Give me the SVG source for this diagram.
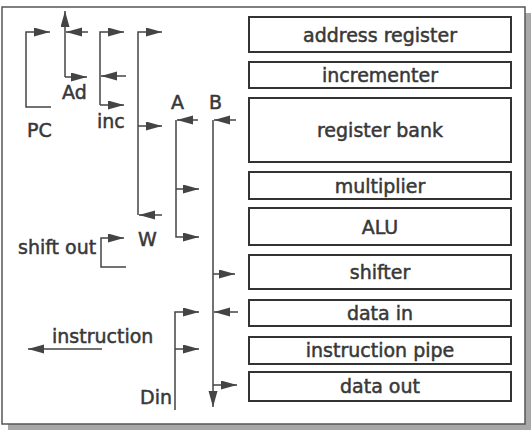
<svg xmlns="http://www.w3.org/2000/svg" width="532" height="439" viewBox="0 0 532 439">
<style>
  text { font-family: "DejaVu Sans", "Liberation Sans", sans-serif; font-size: 19px; fill: #383838; stroke: #383838; stroke-width: 0.5; }
  .box rect { fill: #ffffff; stroke: #333333; stroke-width: 2; }
  .box text { text-anchor: middle; }
  .wire { fill: none; stroke: #444444; stroke-width: 1.5; }
  .arr { marker-end: url(#ah); }
</style>
<defs>
  <marker id="ah" markerUnits="userSpaceOnUse" markerWidth="17" markerHeight="10" refX="16" refY="4.5" orient="auto" viewBox="0 0 17 10">
    <path d="M0,0 L16,4.5 L0,9 Z" fill="#444444"/>
  </marker>
</defs>
<rect x="0" y="0" width="532" height="439" fill="#ffffff"/>
<rect x="8" y="13" width="523" height="417" fill="#a8a8a8"/>
<rect x="2" y="7" width="523" height="417" fill="#ffffff" stroke="#555555" stroke-width="1.5"/>

<g id="address-register" class="box"><rect x="249" y="17" width="262" height="35"/><text x="380" y="41.5">address register</text></g>
<g id="incrementer" class="box"><rect x="249" y="62" width="262" height="26"/><text x="380" y="82">incrementer</text></g>
<g id="register-bank" class="box"><rect x="249" y="98" width="262" height="64"/><text x="380" y="137">register bank</text></g>
<g id="multiplier" class="box"><rect x="249" y="172" width="262" height="27"/><text x="380" y="192.5">multiplier</text></g>
<g id="alu" class="box"><rect x="249" y="208" width="262" height="37"/><text x="380" y="233.5">ALU</text></g>
<g id="shifter" class="box"><rect x="249" y="255" width="262" height="34"/><text x="380" y="279">shifter</text></g>
<g id="data-in" class="box"><rect x="249" y="300" width="262" height="26"/><text x="380" y="320">data in</text></g>
<g id="instruction-pipe" class="box"><rect x="249" y="337" width="262" height="27"/><text x="380" y="357">instruction pipe</text></g>
<g id="data-out" class="box"><rect x="249" y="372" width="262" height="29"/><text x="380" y="393">data out</text></g>

<g id="connectors" class="wire">
  <!-- PC -->
  <path d="M51,107 H26 V32 H50" class="arr"/>
  <!-- Ad -->
  <path d="M65,77 V11" class="arr"/>
  <path d="M65,77 H87" class="arr"/>
  <path d="M88,32 H66" class="arr"/>
  <!-- inc -->
  <path d="M100,105 V32 H124" class="arr"/>
  <path d="M100,105 H124" class="arr"/>
  <path d="M126,76 H101" class="arr"/>
  <!-- W bus -->
  <path d="M138,215 V32 H162" class="arr"/>
  <path d="M138,126 H162" class="arr"/>
  <path d="M162,215 H139" class="arr"/>
  <!-- A bus -->
  <path d="M198,120 H177" class="arr"/>
  <path d="M176,120 V237 H199" class="arr"/>
  <path d="M176,189 H199" class="arr"/>
  <!-- B bus -->
  <path d="M236,120 H214" class="arr"/>
  <path d="M213,120 V407" class="arr"/>
  <path d="M213,274 H235" class="arr"/>
  <path d="M238,312 H214" class="arr"/>
  <path d="M213,385 H237" class="arr"/>
  <!-- Din -->
  <path d="M175,410 V312 H199" class="arr"/>
  <path d="M175,349 H199" class="arr"/>
  <!-- shift out -->
  <path d="M126,267 H101 V238 H124" class="arr"/>
  <!-- instruction -->
  <path d="M102,349 H28" class="arr"/>
</g>

<g id="labels">
  <text x="27" y="137">PC</text>
  <text x="62" y="99">Ad</text>
  <text x="97" y="128">inc</text>
  <text x="171" y="109">A</text>
  <text x="209" y="109">B</text>
  <text x="138" y="246">W</text>
  <text x="18" y="254">shift out</text>
  <text x="52" y="343">instruction</text>
  <text x="140" y="404">Din</text>
</g>
</svg>
